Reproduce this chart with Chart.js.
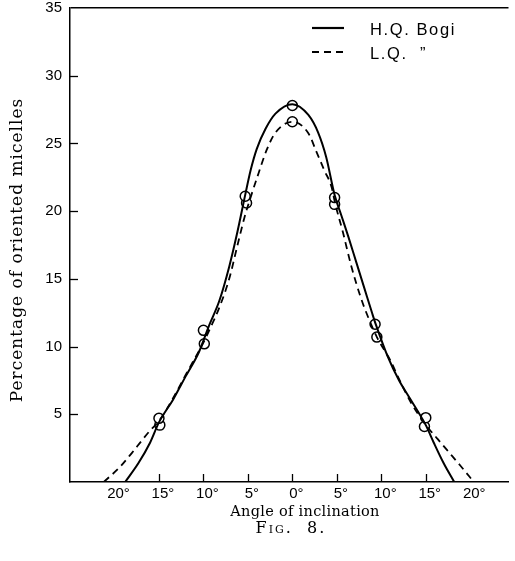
<!DOCTYPE html>
<html>
<head>
<meta charset="utf-8">
<script src="https://cdn.jsdelivr.net/npm/chart.js@4.4.0/dist/chart.umd.min.js"></script>
<style>
html, body { margin: 0; padding: 0; background: #fff; overflow: hidden; }
#wrap { position: relative; width: 515px; height: 561px; }
#grafico { display: block; }
</style>
</head>
<body>
<div id="wrap"><canvas id="grafico"></canvas></div>
<script>
// Curva H.Q. Bogi (linea continua)
const hqCurvaX = [-18.8, -17.3, -16.0, -15.0, -13.4, -12.0, -10.5, -9.4, -8.2, -7.1, -6.2, -5.3, -4.7, -4.0, -3.0, -1.9, 0,
                  1.8, 2.9, 3.8, 4.75, 5.5, 6.3, 7.2, 8.1, 9.0, 9.4, 10.7, 12.0, 13.1, 15.0, 15.9, 17.0, 18.2];
const hqCurvaY = [0, 1.4, 2.9, 4.4, 6.1, 7.8, 9.6, 11.5, 13.4, 15.9, 18.4, 21.2, 23.0, 24.6, 26.1, 27.2, 27.9,
                  27.1, 25.8, 24.0, 21.2, 19.7, 18.1, 16.2, 14.3, 12.4, 11.6, 9.3, 7.5, 6.3, 4.2, 2.9, 1.4, 0];

// Curva L.Q. (linea discontinua)
const lqCurvaX = [-21.2, -19.4, -18.1, -17.0, -16.0, -15.0, -13.4, -12.0, -10.0, -9.2, -8.2, -7.1, -6.2, -5.4, -4.8, -3.8, -2.9, -1.9, 0,
                  1.8, 2.7, 3.6, 4.4, 4.8, 5.7, 6.6, 7.7, 8.5, 9.5, 11.0, 12.0, 13.3, 14.9, 16.3, 17.4, 18.9, 20.4];
const lqCurvaY = [0, 1.1, 2.1, 3.0, 3.8, 4.5, 6.2, 7.9, 10.3, 11.4, 12.9, 15.0, 17.4, 19.5, 20.8, 22.8, 24.5, 25.8, 26.6,
                  25.75, 24.4, 23.0, 21.8, 20.6, 18.4, 16.0, 13.6, 12.2, 10.7, 9.0, 7.6, 5.9, 4.3, 3.2, 2.35, 1.2, 0];

// Puntos medidos (circulos)
const hqPuntosX = [-15.0, -10.0, -5.3, 0, 4.75, 9.3, 15.0];
const hqPuntosY = [4.7, 11.2, 21.1, 27.8, 21.0, 11.65, 4.75];
const lqPuntosX = [-14.9, -9.9, -5.15, 0, 4.75, 9.5, 14.85];
const lqPuntosY = [4.2, 10.2, 20.6, 26.6, 20.5, 10.7, 4.1];

// Ejes
const ticksX = [-20, -15, -10, -5, 0, 5, 10, 15, 20];
const marcasX = [-15, -10, -5, 0, 5, 10, 15];
const marcasY = [5, 10, 15, 20, 25, 30];

const leyendas = ['H.Q. Bogi', 'L.Q.  \u201D'];
const tituloY = 'Percentage of oriented micelles';
const tituloX = 'Angle of inclination';
const pie = 'Fig.  8.';

const juntar = (xs, ys) => xs.map((x, i) => ({ x: x, y: ys[i] }));

const decoracion = {
    id: 'decoracion',
    afterDraw(chart) {
        const ctx = chart.ctx;
        const area = chart.chartArea;
        const ex = chart.scales.x;
        const ey = chart.scales.y;
        ctx.save();
        ctx.strokeStyle = '#000';
        ctx.lineWidth = 1.3;

        // marcas hacia dentro
        marcasY.forEach(v => {
            const py = Math.round(ey.getPixelForValue(v)) + 0.5;
            ctx.beginPath();
            ctx.moveTo(area.left, py);
            ctx.lineTo(area.left + 8, py);
            ctx.stroke();
        });
        marcasX.forEach(v => {
            const px = Math.round(ex.getPixelForValue(v)) + 0.5;
            ctx.beginPath();
            ctx.moveTo(px, area.bottom);
            ctx.lineTo(px, area.bottom - 8);
            ctx.stroke();
        });

        // leyenda
        ctx.lineWidth = 2.2;
        ctx.beginPath();
        ctx.moveTo(312, 28);
        ctx.lineTo(344, 28);
        ctx.stroke();
        ctx.setLineDash([7, 5]);
        ctx.beginPath();
        ctx.moveTo(312, 52);
        ctx.lineTo(344, 52);
        ctx.stroke();
        ctx.setLineDash([]);

        ctx.fillStyle = '#000';
        ctx.font = '16.5px "Liberation Sans"';
        ctx.letterSpacing = '1.6px';
        ctx.textAlign = 'left';
        ctx.textBaseline = 'middle';
        ctx.fillText(leyendas[0], 370, 30);
        ctx.fillText(leyendas[1], 370, 54);

        // titulo eje Y
        ctx.save();
        ctx.translate(18, 250);
        ctx.rotate(-Math.PI / 2);
        ctx.font = '17px "DejaVu Serif"';
        ctx.letterSpacing = '1px';
        ctx.textAlign = 'center';
        ctx.fillText(tituloY, 0, 0);
        ctx.restore();

        // titulo eje X y pie
        ctx.letterSpacing = '0.3px';
        ctx.font = '14.5px "DejaVu Serif"';
        ctx.textAlign = 'center';
        ctx.fillText(tituloX, 305, 512);
        ctx.letterSpacing = '2px';
        ctx.font = 'small-caps 16px "DejaVu Serif"';
        ctx.fillText(pie, 291, 529);
        ctx.restore();
    }
};

new Chart(document.getElementById('grafico').getContext('2d'), {
    type: 'line',
    data: {
        datasets: [
            {
                label: 'H.Q. Bogi',
                data: juntar(hqCurvaX, hqCurvaY),
                borderColor: '#000',
                borderWidth: 2,
                pointRadius: 0,
                cubicInterpolationMode: 'monotone',
                fill: false
            },
            {
                label: 'L.Q.',
                data: juntar(lqCurvaX, lqCurvaY),
                borderColor: '#000',
                borderWidth: 1.8,
                borderDash: [7, 5],
                pointRadius: 0,
                cubicInterpolationMode: 'monotone',
                fill: false
            },
            {
                label: 'H.Q. puntos',
                data: juntar(hqPuntosX, hqPuntosY),
                showLine: false,
                pointRadius: 5,
                pointBackgroundColor: '#fff',
                pointBorderColor: '#000',
                pointBorderWidth: 1.5
            },
            {
                label: 'L.Q. puntos',
                data: juntar(lqPuntosX, lqPuntosY),
                showLine: false,
                pointRadius: 5,
                pointBackgroundColor: '#fff',
                pointBorderColor: '#000',
                pointBorderWidth: 1.5
            }
        ]
    },
    options: {
        responsive: true,
        maintainAspectRatio: false,
        animation: false,
        layout: { padding: { top: 8, right: 3, bottom: 0, left: 0 } },
        plugins: {
            legend: { display: false },
            tooltip: { enabled: false }
        },
        scales: {
            x: {
                type: 'linear',
                min: -25,
                max: 24.3,
                afterBuildTicks: (eje) => { eje.ticks = ticksX.map(v => ({ value: v })); },
                afterFit: (eje) => { eje.height = 79; eje.paddingLeft = 0; eje.paddingRight = 0; },
                ticks: {
                    autoSkip: false,
                    maxRotation: 0,
                    padding: 3,
                    labelOffset: 4,
                    color: '#000',
                    font: { family: 'Liberation Sans', size: 15 },
                    callback: (v) => Math.abs(v) + '\u00B0'
                },
                grid: { drawOnChartArea: false, drawTicks: false },
                border: { display: true, color: '#000', width: 1.5 }
            },
            y: {
                min: 0,
                max: 35,
                afterFit: (eje) => { eje.width = 70; eje.paddingTop = 0; eje.paddingBottom = 0; },
                ticks: {
                    stepSize: 5,
                    padding: 8,
                    color: '#000',
                    font: { family: 'Liberation Sans', size: 15 },
                    callback: (v) => v === 0 ? '' : v
                },
                grid: {
                    drawTicks: false,
                    lineWidth: 1.5,
                    color: (c) => c.tick && c.tick.value === 35 ? '#000' : 'rgba(0,0,0,0)'
                },
                border: { display: true, color: '#000', width: 1.5 }
            }
        }
    },
    plugins: [decoracion]
});
</script>
</body>
</html>
